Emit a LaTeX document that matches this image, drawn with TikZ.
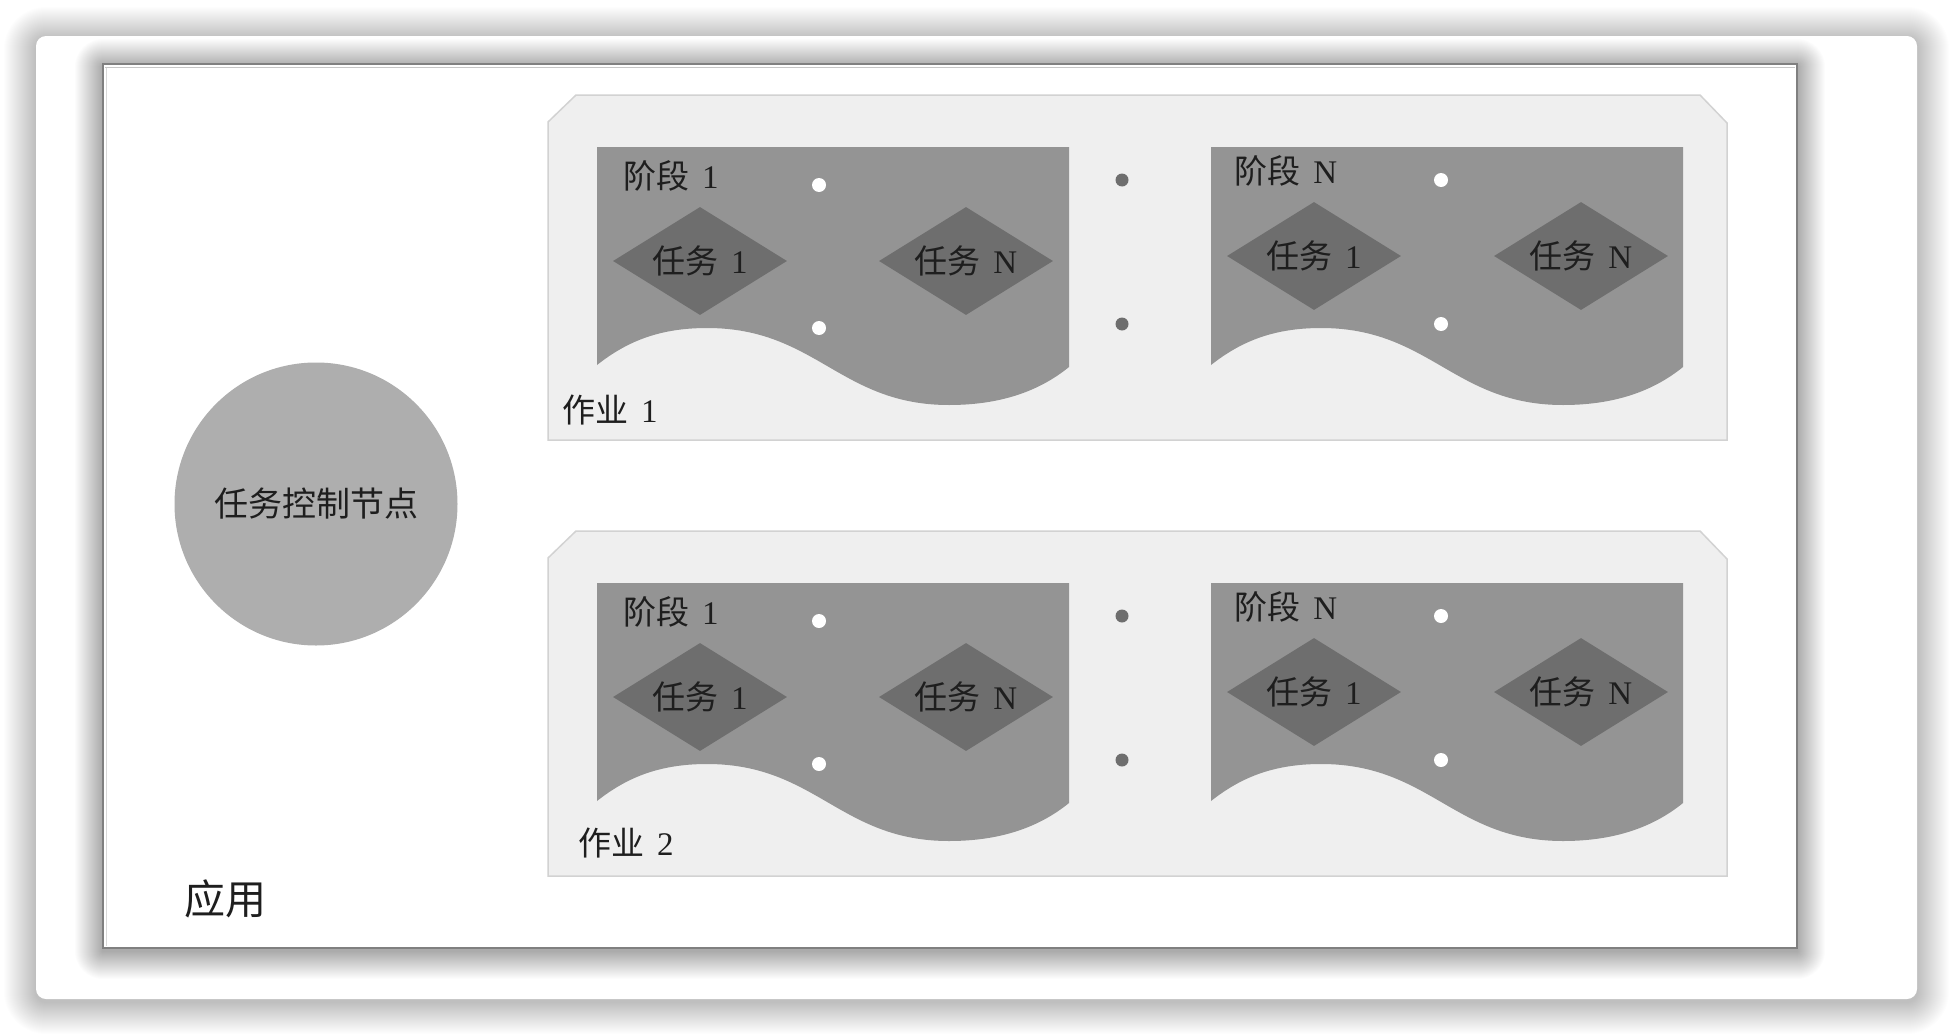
\documentclass[tikz,border=0pt]{standalone}
\usepackage{fontspec}
\newfontfamily\cjk{Noto Sans CJK SC}
\newfontfamily\digf{Liberation Serif}
\usetikzlibrary{shapes.geometric}
\definecolor{jobfill}{HTML}{EFEFEF}
\definecolor{jobline}{HTML}{D2D2D2}
\definecolor{stagefill}{HTML}{949494}
\definecolor{taskfill}{HTML}{6E6E6E}
\definecolor{ctrlfill}{HTML}{AEAEAE}
\definecolor{txt}{HTML}{1E1E1E}
\newcommand\lbl[2]{{\cjk #1}\hspace{0.38em}{\digf #2}}
\newcommand\stageshape[2]{%
  \fill[stagefill, shift={(#1,#2)}] (0,0) -- (472,0) -- (472,220)
    .. controls (440,246) and (400,258) .. (352,258)
    .. controls (243,258) and (219,181) .. (110,181)
    .. controls (60,181) and (28,196) .. (0,218) -- cycle;}
\newcommand\jobshape[1]{%
  \filldraw[fill=jobfill, draw=jobline, line width=1.5pt, shift={(0,#1)}]
    (548,122) -- (576,95) -- (1700,95) -- (1727,123) -- (1727,440) -- (548,440) -- cycle;}
\begin{document}
\begin{tikzpicture}[x=1pt,y=-1pt,
  lab/.style={text=txt, inner sep=0pt, font=\fontsize{33}{40}\selectfont},
  bigl/.style={text=txt, inner sep=0pt, font=\fontsize{41}{48}\selectfont},
  taskbox/.style={diamond, aspect=1.6, fill=taskfill, inner sep=0pt,
    minimum width=174pt, minimum height=108pt, text=txt, font=\fontsize{33}{38}\selectfont},
  wdot/.style={circle, fill=white, inner sep=0pt, minimum size=14pt},
  gdot/.style={circle, fill=taskfill, inner sep=0pt, minimum size=13pt},
  ctrl/.style={circle, fill=ctrlfill, minimum size=283pt, inner sep=0pt, text=txt,
    font=\fontsize{34}{40}\selectfont\cjk}]
\useasboundingbox (0,0) rectangle (1952,1036);
\fill[white] (0,0) rectangle (1952,1036);
% outer card shadow (layered)
\foreach \i [evaluate=\i as \r using 10+\i] in {1,...,32} {
  \fill[black, opacity=0.009, rounded corners=\r pt]
    (36-\i,36-\i+3) rectangle (1917+\i,999+\i+3);
}
\fill[white, rounded corners=10pt] (36,36) rectangle (1917,999);
% application box shadow (layered)
\foreach \i in {1,...,28} {
  \fill[black, opacity=0.011, rounded corners=\i pt]
    (103-\i,64-\i+3) rectangle (1797+\i,948+\i+3);
}
\fill[white] (103,64) rectangle (1797,948);
\draw[color=black!50, line width=1.5pt] (103,64) rectangle (1797,948);
\draw[color=black!22, line width=1.5pt] (105,67.5) -- (1795,67.5);
\draw[color=black!15, line width=1.2pt] (106.5,67.5) -- (106.5,946);
% control node
\node[ctrl] (ctrl) at (316,504) {任务控制节点};
\node[bigl] (app) at (225,899) {\cjk 应用};
% jobs
\foreach \dy in {0, 436} {
  \jobshape{\dy}
  \stageshape{597}{147+\dy}
  \stageshape{1211}{147+\dy}
}
% job 1
\node[lab] (job1) at (610,410) {\lbl{作业}{1}};
\node[lab] (s1a) at (671,176) {\lbl{阶段}{1}};
\node[lab] (sNa) at (1286,171) {\lbl{阶段}{N}};
\node[taskbox] (t11a) at (700,261) {\lbl{任务}{1}};
\node[taskbox] (t1Na) at (966,261) {\lbl{任务}{N}};
\node[taskbox] (tN1a) at (1314,256) {\lbl{任务}{1}};
\node[taskbox] (tNNa) at (1581,256) {\lbl{任务}{N}};
\node[wdot] (w1a) at (819,185) {};
\node[wdot] (w2a) at (819,328) {};
\node[wdot] (w3a) at (1441,180) {};
\node[wdot] (w4a) at (1441,324) {};
\node[gdot] (g1a) at (1122,180) {};
\node[gdot] (g2a) at (1122,324) {};
% job 2
\node[lab] (job2) at (626,843) {\lbl{作业}{2}};
\node[lab] (s1b) at (671,612) {\lbl{阶段}{1}};
\node[lab] (sNb) at (1286,607) {\lbl{阶段}{N}};
\node[taskbox] (t11b) at (700,697) {\lbl{任务}{1}};
\node[taskbox] (t1Nb) at (966,697) {\lbl{任务}{N}};
\node[taskbox] (tN1b) at (1314,692) {\lbl{任务}{1}};
\node[taskbox] (tNNb) at (1581,692) {\lbl{任务}{N}};
\node[wdot] (w1b) at (819,621) {};
\node[wdot] (w2b) at (819,764) {};
\node[wdot] (w3b) at (1441,616) {};
\node[wdot] (w4b) at (1441,760) {};
\node[gdot] (g1b) at (1122,616) {};
\node[gdot] (g2b) at (1122,760) {};
\end{tikzpicture}
\end{document}
